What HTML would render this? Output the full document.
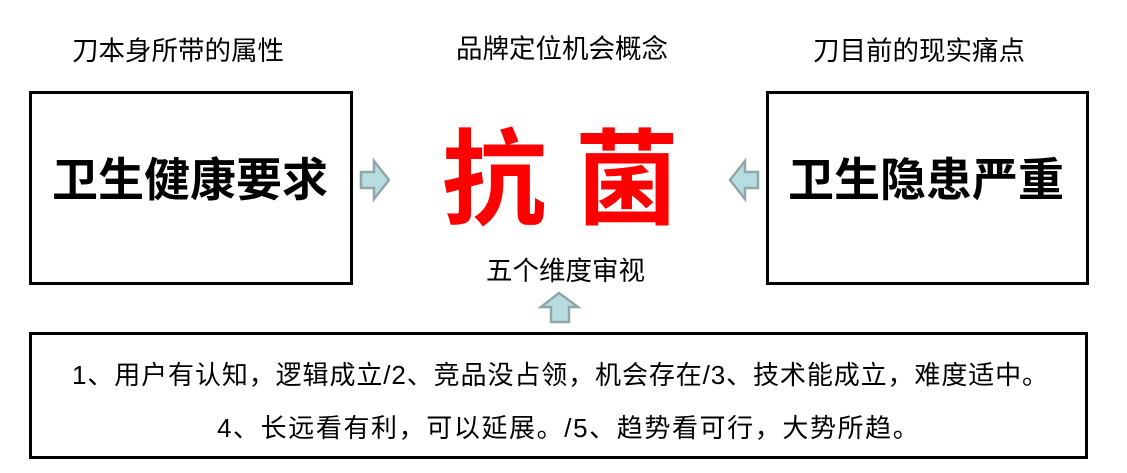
<!DOCTYPE html>
<html><head><meta charset="utf-8"><style>
body{margin:0;width:1127px;height:473px;background:#fff;position:relative;overflow:hidden;font-family:"Liberation Sans","Noto Sans CJK SC",sans-serif;}
.t{position:absolute;white-space:nowrap;color:#000;line-height:1;}
.box{position:absolute;border:3px solid #000;box-sizing:border-box;}
</style></head><body>
<div class="t" style="left:72px;top:38px;font-size:26.5px;">刀本身所带的属性</div>
<div class="t" style="left:456px;top:36px;font-size:26.5px;">品牌定位机会概念</div>
<div class="t" style="left:813px;top:38px;font-size:26.5px;">刀目前的现实痛点</div>

<div class="box" style="left:29px;top:91px;width:324px;height:194px;"></div>
<div class="box" style="left:766px;top:91px;width:323px;height:194px;"></div>
<div class="box" style="left:29px;top:332px;width:1059px;height:127px;"></div>

<div class="t" style="left:52px;top:157px;font-size:46px;font-weight:bold;">卫生健康要求</div>
<div class="t" style="left:788px;top:157px;font-size:46px;font-weight:bold;">卫生隐患严重</div>
<div class="t" style="left:442px;top:124px;font-size:104px;font-weight:bold;color:#f00;line-height:1.1;">抗 菌</div>
<div class="t" style="left:486px;top:258px;font-size:26.5px;">五个维度审视</div>

<svg style="position:absolute;left:0;top:0" width="1127" height="473">
<g fill="#b7dde1" stroke="#8fa7a9" stroke-width="2.5">
<polygon points="361,172 374,172 374,161 389,180 374,199 374,188 361,188"/>
<polygon points="758,172 745,172 745,161 730,180 745,199 745,188 758,188"/>
<polygon points="551,322 551,307 541,307 559,293 578,307 569,307 569,322"/>
</g></svg>

<div class="t" style="left:72px;top:362px;font-size:26px;letter-spacing:0.9px;">1、用户有认知，逻辑成立/2、竞品没占领，机会存在/3、技术能成立，难度适中。</div>
<div class="t" style="left:217px;top:415px;font-size:26px;letter-spacing:1.6px;">4、长远看有利，可以延展。/5、趋势看可行，大势所趋。</div>
</body></html>
